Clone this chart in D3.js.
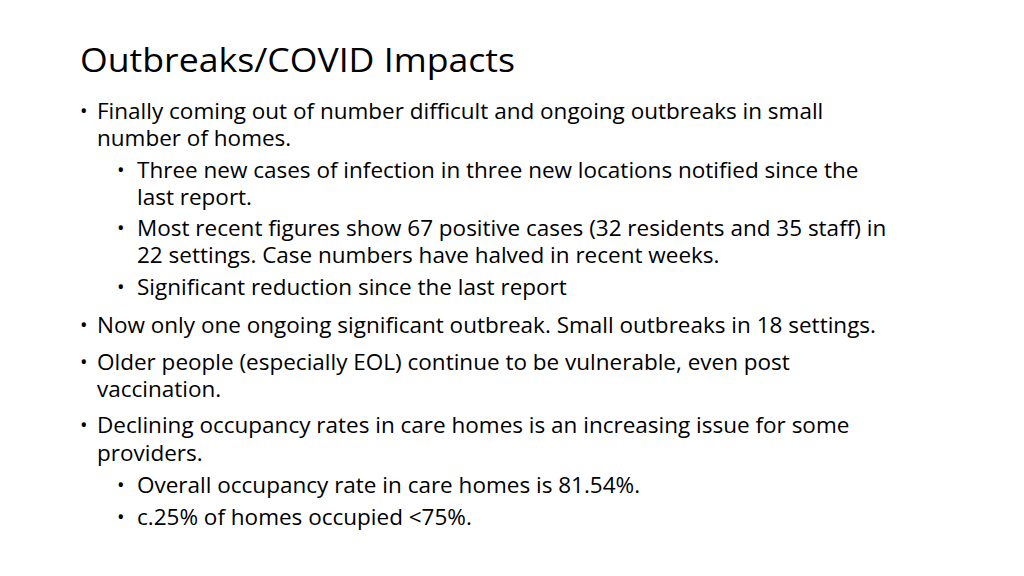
<!DOCTYPE html>
<html><head><meta charset="utf-8">
<script src="https://cdn.jsdelivr.net/npm/d3@7"></script>
<style>body{margin:0;background:#fff}</style>
</head><body>
<svg id="slide" width="1024" height="576"></svg>
<script>
// slide content
var title = "Outbreaks/COVID Impacts";
var lines = [
  "Finally coming out of number difficult and ongoing outbreaks in small",
  "number of homes.",
  "Three new cases of infection in three new locations notified since the",
  "last report.",
  "Most recent figures show 67 positive cases (32 residents and 35 staff) in",
  "22 settings. Case numbers have halved in recent weeks.",
  "Significant reduction since the last report",
  "Now only one ongoing significant outbreak. Small outbreaks in 18 settings.",
  "Older people (especially EOL) continue to be vulnerable, even post",
  "vaccination.",
  "Declining occupancy rates in care homes is an increasing issue for some",
  "providers.",
  "Overall occupancy rate in care homes is 81.54%.",
  "c.25% of homes occupied <75%."
];
var levels   = [1, 1, 2, 2, 2, 2, 2, 1, 1, 1, 1, 1, 2, 2];
var bullets  = [1, 0, 1, 0, 1, 0, 1, 1, 1, 0, 1, 0, 1, 1];
var baselines = [119, 146, 178, 205, 236, 263, 295, 333, 370, 397, 433, 461, 493, 525];

var svg = d3.select("#slide");
var font = "'Open Sans', Lato, sans-serif";

svg.append("text")
  .attr("x", 80).attr("y", 72)
  .attr("font-family", font).attr("font-size", 33)
  .attr("textLength", 435).attr("lengthAdjust", "spacingAndGlyphs")
  .attr("fill", "#000")
  .text(title);

var bulletX = {1: 80, 2: 117};
var textX = {1: 97, 2: 137};

lines.forEach(function(d, i) {
  if (bullets[i]) {
    svg.append("text")
      .attr("x", bulletX[levels[i]]).attr("y", baselines[i] - 1)
      .attr("font-family", font).attr("font-size", 20)
      .text("\u2022");
  }
  svg.append("text")
    .attr("x", textX[levels[i]]).attr("y", baselines[i])
    .attr("font-family", font).attr("font-size", 22.5)
    .attr("fill", "#000")
    .text(d);
});
</script>
</body></html>
